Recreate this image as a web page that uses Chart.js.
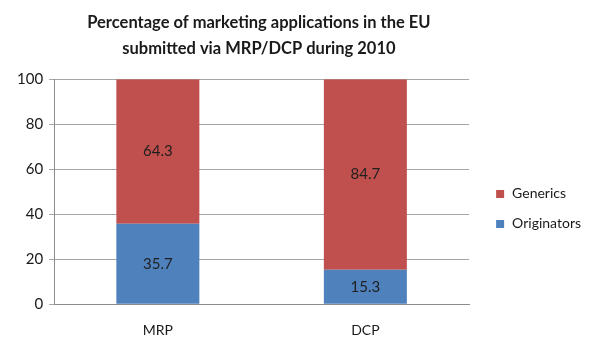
<!DOCTYPE html>
<html>
<head>
<meta charset="utf-8">
<script src="https://cdn.jsdelivr.net/npm/chart.js@4/dist/chart.umd.min.js"></script>
<style>
  html, body { margin: 0; padding: 0; background: #fff; }
  #wrap { width: 600px; height: 353px; }
</style>
</head>
<body>
<div id="wrap"><canvas id="mrpChart"></canvas></div>
<script>
var categories = ["MRP", "DCP"];
var originators = [35.7, 15.3];
var generics = [64.3, 84.7];
var yTicks = [0, 20, 40, 60, 80, 100];
var colors = { Originators: '#4f81bd', Generics: '#c0504d' };

// writes the value in the middle of each bar segment
var barValues = {
    id: 'barValues',
    afterDatasetsDraw: function(chart) {
        var c = chart.ctx;
        c.save();
        c.font = '15px Lato';
        c.fillStyle = '#1f1f1f';
        c.textAlign = 'center';
        c.textBaseline = 'middle';
        chart.data.datasets.forEach(function(ds, i) {
            chart.getDatasetMeta(i).data.forEach(function(bar, j) {
                var mid = (bar.y + bar.base) / 2;
                c.fillText(ds.data[j].toFixed(1), bar.x, mid);
            });
        });
        c.restore();
    }
};

// legend marker: small square on the right side of a wider transparent box
function marker(color) {
    var cv = document.createElement('canvas');
    cv.width = 20;
    cv.height = 8;
    var g = cv.getContext('2d');
    g.fillStyle = color;
    g.fillRect(11, 0, 8, 8);
    return cv;
}

var pad = "\u00a0".repeat(21);

var ctx = document.getElementById('mrpChart').getContext('2d');
var chart = new Chart(ctx, {
    type: 'bar',
    data: {
        labels: categories,
        datasets: [{
            label: "Originators",
            backgroundColor: colors.Originators,
            data: originators
        }, {
            label: "Generics",
            backgroundColor: colors.Generics,
            data: generics
        }]
    },
    options: {
        responsive: true,
        maintainAspectRatio: false,
        animation: false,
        layout: { padding: { left: 11, right: 9, top: 4, bottom: 4 } },
        datasets: { bar: { barPercentage: 0.4, categoryPercentage: 1 } },
        plugins: {
            title: {
                display: true,
                text: ["Percentage of marketing applications in the EU" + pad,
                       "submitted via MRP/DCP during 2010" + pad],
                color: '#1a1a1a',
                font: { family: 'Lato', size: 16.5, weight: 'bold', lineHeight: 1.55 },
                padding: { top: 6, bottom: 18 }
            },
            legend: {
                position: 'right',
                reverse: true,
                title: { display: true, text: ' ', padding: 25, font: { size: 12 } },
                labels: {
                    usePointStyle: true,
                    pointStyleWidth: 20,
                    boxHeight: 8,
                    padding: 16,
                    color: '#1a1a1a',
                    font: { family: 'Lato', size: 14 },
                    generateLabels: function(chart) {
                        var items = Chart.defaults.plugins.legend.labels.generateLabels(chart);
                        items.forEach(function(it) { it.pointStyle = marker(colors[it.text]); });
                        return items;
                    }
                }
            },
            tooltip: { enabled: false }
        },
        scales: {
            x: {
                stacked: true,
                grid: { display: false },
                border: { color: '#8c8c8c' },
                ticks: { color: '#1a1a1a', padding: 10, font: { family: 'Lato', size: 14 } }
            },
            y: {
                stacked: true,
                min: 0,
                max: 100,
                afterBuildTicks: function(axis) {
                    axis.ticks = yTicks.map(function(v) { return { value: v }; });
                },
                grid: { color: '#a6a6a6', tickLength: 5 },
                border: { color: '#8c8c8c' },
                ticks: { color: '#1a1a1a', padding: 6, font: { family: 'Lato', size: 15 } }
            }
        }
    },
    plugins: [barValues]
});
</script>
</body>
</html>
